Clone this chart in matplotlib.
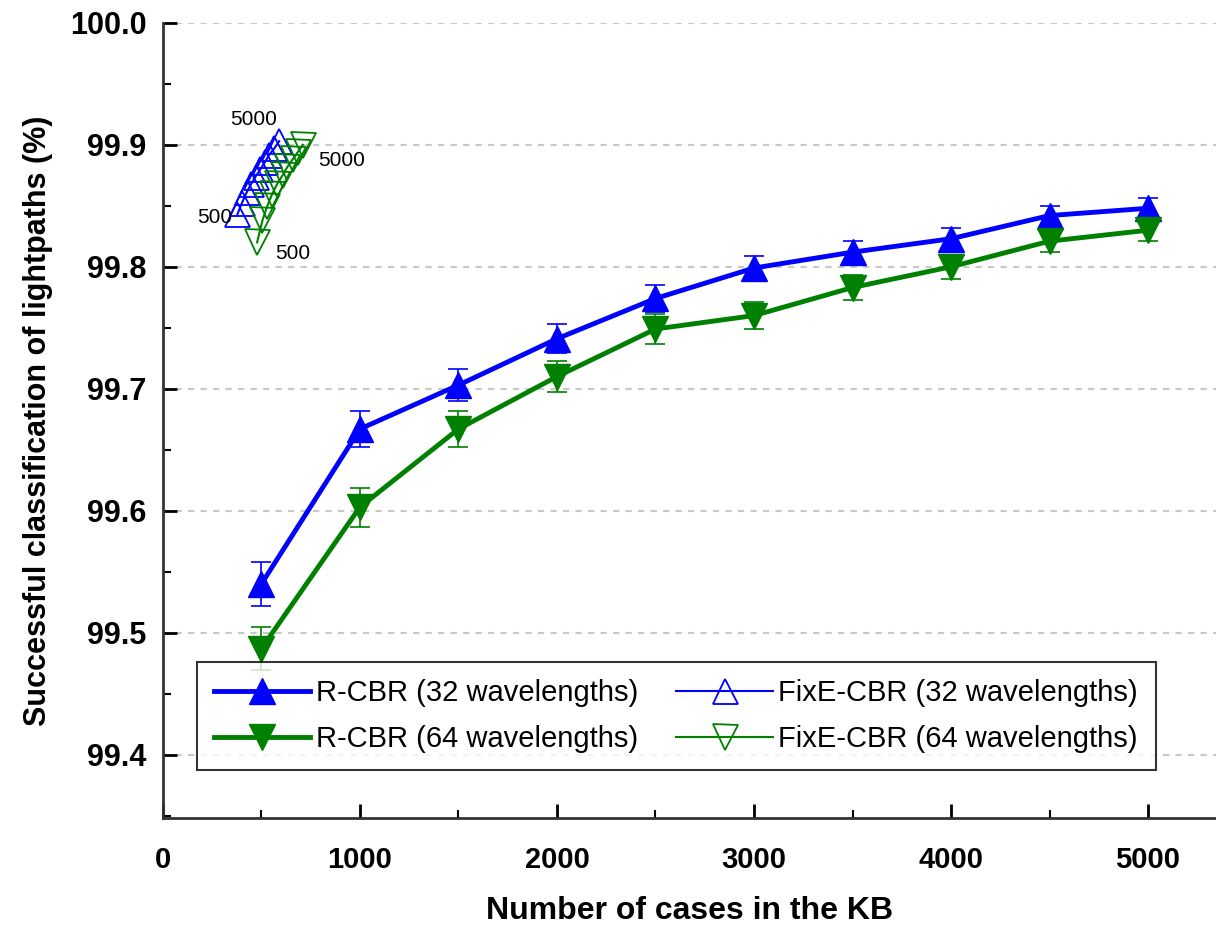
import matplotlib
matplotlib.use("Agg")
import matplotlib.pyplot as plt

# data
cases = [500, 1000, 1500, 2000, 2500, 3000, 3500, 4000, 4500, 5000]
rcbr32 = [99.540, 99.667, 99.703, 99.741, 99.774, 99.799, 99.812, 99.823, 99.842, 99.848]
rcbr64 = [99.487, 99.603, 99.667, 99.710, 99.749, 99.760, 99.783, 99.800, 99.821, 99.830]
err32 = [0.018, 0.015, 0.013, 0.012, 0.011, 0.010, 0.009, 0.009, 0.008, 0.008]
err64 = [0.018, 0.016, 0.015, 0.013, 0.012, 0.011, 0.010, 0.010, 0.009, 0.009]

# FixE-CBR cluster as drawn in the reference (compressed near the top-left)
fixe32_x = [378, 400, 425, 448, 470, 495, 518, 540, 565, 590]
fixe32_y = [99.843, 99.852, 99.861, 99.868, 99.874, 99.880, 99.886, 99.892, 99.897, 99.903]
fixe64_x = [478, 505, 530, 555, 580, 607, 632, 658, 684, 710]
fixe64_y = [99.820, 99.838, 99.850, 99.860, 99.868, 99.875, 99.882, 99.888, 99.894, 99.900]

blue = "#0000ff"
green = "#008000"
font = "Liberation Sans"

fig = plt.figure(figsize=(12.16, 9.30), dpi=100)
ax = fig.add_axes([0.134, 0.1204, 0.866, 0.855])

# error bars (no legend entry)
ax.errorbar(cases, rcbr32, yerr=err32, fmt="none", ecolor=blue, capsize=7,
            elinewidth=1.2, capthick=1.2, zorder=3)
ax.errorbar(cases, rcbr64, yerr=err64, fmt="none", ecolor=green, capsize=7,
            elinewidth=1.2, capthick=1.2, zorder=3)

h1, = ax.plot(cases, rcbr32, color=blue, lw=3.5, marker="^", ms=19, zorder=4,
              label="R-CBR (32 wavelengths)")
h2, = ax.plot(cases, rcbr64, color=green, lw=3.5, marker="v", ms=19, zorder=4,
              label="R-CBR (64 wavelengths)")
h3, = ax.plot(fixe32_x, fixe32_y, color=blue, lw=1.5, marker="^", ms=18, mfc="none",
              mew=1.3, zorder=3, label="FixE-CBR (32 wavelengths)")
h4, = ax.plot(fixe64_x, fixe64_y, color=green, lw=1.5, marker="v", ms=18, mfc="none",
              mew=1.3, zorder=3, label="FixE-CBR (64 wavelengths)")

ax.text(fixe32_x[-1] - 130, fixe32_y[-1] + 0.013, "5000", fontsize=15, family=font, ha="center")
ax.text(fixe64_x[-1] + 80, fixe64_y[-1] - 0.017, "5000", fontsize=15, family=font, ha="left")
ax.text(fixe32_x[0] - 25, fixe32_y[0] - 0.007, "500", fontsize=15, family=font, ha="right")
ax.text(fixe64_x[0] + 90, fixe64_y[0] - 0.014, "500", fontsize=15, family=font, ha="left")

ax.set_xlim(0, 5345)
ax.set_ylim(99.348, 100.0)
ax.set_xticks([0, 1000, 2000, 3000, 4000, 5000])
ax.set_xticks(cases, minor=True)
ax.set_yticks([99.4, 99.5, 99.6, 99.7, 99.8, 99.9, 100.0])
ax.set_yticks([99.35, 99.45, 99.55, 99.65, 99.75, 99.85, 99.95], minor=True)
ax.set_yticklabels(["99.4", "99.5", "99.6", "99.7", "99.8", "99.9", "100.0"],
                   fontsize=22, fontweight="bold", family=font)
ax.set_xticklabels(["0", "1000", "2000", "3000", "4000", "5000"],
                   fontsize=21, fontweight="bold", family=font)
ax.tick_params(direction="in", which="major", length=10, width=2)
ax.tick_params(axis="x", which="major", pad=20)
ax.tick_params(axis="y", which="major", pad=12)
ax.tick_params(direction="in", which="minor", length=6, width=1.5)
ax.grid(axis="y", which="major", color="#c8c8c8", ls=(0, (3, 3)), lw=1.5)

for side in ["top", "right"]:
    ax.spines[side].set_visible(False)
for side in ["left", "bottom"]:
    ax.spines[side].set_linewidth(2)
    ax.spines[side].set_color("#333333")

ax.set_xlabel("Number of cases in the KB", fontsize=23, fontweight="bold", family=font, labelpad=16)
ax.set_ylabel("Successful classification of lightpaths (%)", fontsize=22, fontweight="bold",
              family=font, labelpad=12)

leg = ax.legend([h1, h2, h3, h4],
                [h.get_label() for h in [h1, h2, h3, h4]], ncol=2,
                loc="lower left", bbox_to_anchor=(0.032, 0.06),
                prop={"family": font, "size": 21}, frameon=True, fancybox=False,
                edgecolor="black", handlelength=3.3, handletextpad=0.2, columnspacing=1.3,
                borderpad=0.6, labelspacing=0.6, borderaxespad=0)
leg.get_frame().set_linewidth(1.5)

fig.savefig("out.png", dpi=100)
